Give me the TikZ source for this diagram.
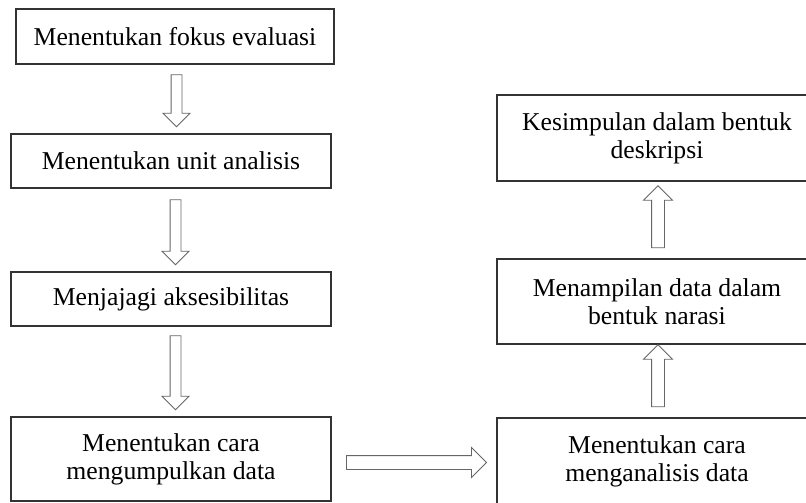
\documentclass[tikz,border=0pt]{standalone}
\usepackage{fontspec}
\setmainfont{Liberation Serif}
\usetikzlibrary{shapes.arrows}
\tikzset{Box/.style={rectangle, draw=black!80, line width=1.1pt, fill=white, minimum width=320pt, minimum height=#1, align=center, font=\fontsize{25.7}{28}\selectfont}}

\begin{document}
\begin{tikzpicture}[x=1pt, y=-1pt, Arr/.style={single arrow, draw=black!60, fill=white, line width=0.9pt, inner xsep=0pt, inner ysep=5pt, text height=0pt, text depth=0pt, minimum width=26pt, single arrow head extend=8pt, single arrow tip angle=90, minimum height=#1}]
        % \draw[help lines, gray] (0,0) grid[step=50] (806,503);
        \clip (0,0) rectangle (806,503);
        \node[Box=55pt, minimum width=318pt] (F) at (175,36.5){Menentukan fokus evaluasi};
        \node[Box=54pt] (U) at (171,161){Menentukan unit analisis};
        \node[Box=54pt] (J) at (171,299){Menjajagi aksesibilitas};
        \node[Box=84pt] (K) at (171,459){Menentukan cara\\mengumpulkan data};
        \node[Box=87pt] (N) at (657,461.5){Menentukan cara\\menganalisis data};
        \node[Box=85pt] (T) at (657,301.5){Menampilan data dalam\\bentuk narasi};
        \node[Box=86pt] (D) at (657,138){Kesimpulan dalam bentuk\\deskripsi};

        \node[Arr=52pt, rotate=-90] (FU) at (176.5,98){};
        \node[Arr=65pt, rotate=-90] (UJ) at (175.5,229.5){};
        \node[Arr=74pt, rotate=-90] (JK) at (175.5,370){};
        \node[Arr=140pt, inner ysep=6.5pt] (KN) at (413,462.5){};
        \node[Arr=62pt, inner ysep=6pt, rotate=90] (NT) at (658,379){};
        \node[Arr=62pt, inner ysep=6pt, rotate=90] (TD) at (658,220){};

    \end{tikzpicture}
\end{document}
